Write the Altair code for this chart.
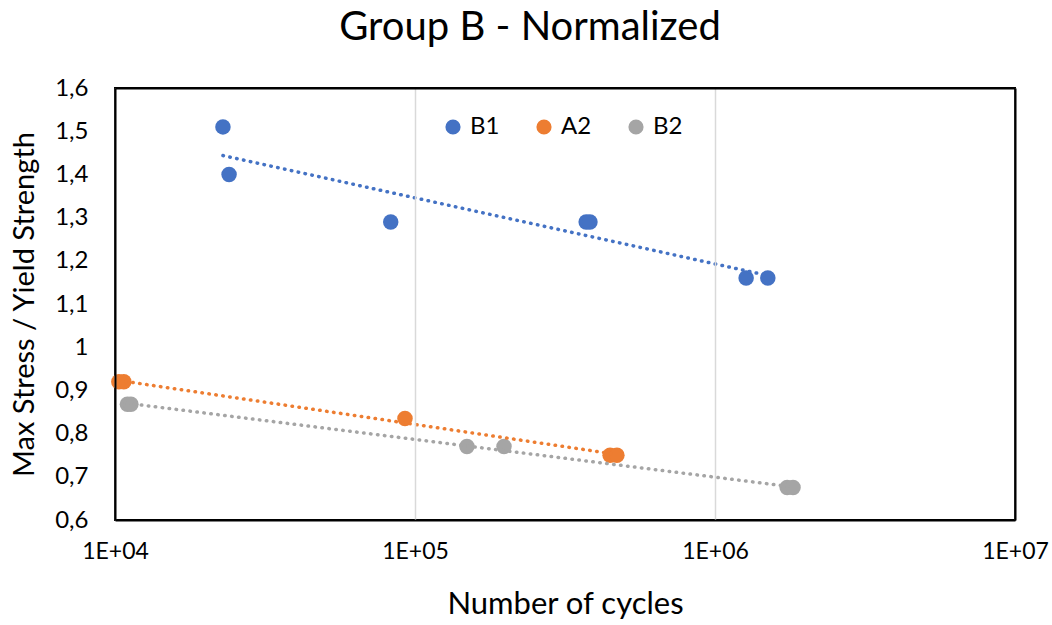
import altair as alt
import pandas as pd

series_names = ["B1", "A2", "B2"]
colors = ["#4472C4", "#ED7D31", "#A5A5A5"]

b1_cycles = [22900, 24000, 83000, 372000, 383000, 1270000, 1500000]
b1_ratio = [1.51, 1.40, 1.29, 1.29, 1.29, 1.16, 1.16]

a2_cycles = [10300, 10700, 92600, 447000, 471000]
a2_ratio = [0.92, 0.92, 0.835, 0.75, 0.75]

b2_cycles = [11000, 11300, 149000, 198000, 1740000, 1820000]
b2_ratio = [0.868, 0.868, 0.77, 0.77, 0.675, 0.675]

x_ticks = [1e4, 1e5, 1e6, 1e7]
y_ticks = [0.6, 0.7, 0.8, 0.9, 1.0, 1.1, 1.2, 1.3, 1.4, 1.5, 1.6]

rows = []
for name, xs, ys in [("B1", b1_cycles, b1_ratio), ("A2", a2_cycles, a2_ratio), ("B2", b2_cycles, b2_ratio)]:
    for xv, yv in zip(xs, ys):
        rows.append({"series": name, "n": xv, "ratio": yv})
df = pd.DataFrame(rows)

FONT = "Lato"

x_scale = alt.Scale(type="log", domain=[1e4, 1e7], nice=False)
y_scale = alt.Scale(domain=[0.6, 1.6], nice=False, zero=False)

x_enc = alt.X(
    "n:Q",
    scale=x_scale,
    axis=alt.Axis(
        values=x_ticks,
        labelExpr="'1E+0' + round(log(datum.value) / LN10)",
        title="Number of cycles",
        grid=True,
        gridColor="#D9D9D9",
        gridWidth=1.5,
        domain=True,
        domainColor="#000000",
        domainWidth=2,
        ticks=False,
        labelFlush=False,
        labelPadding=20,
        labelFontSize=23,
        labelColor="#000000",
        titleFontSize=31,
        titleFontWeight="normal",
        titleColor="#000000",
        titlePadding=26,
        labelFont=FONT,
        titleFont=FONT,
        zindex=1,
    ),
)
y_enc = alt.Y(
    "ratio:Q",
    scale=y_scale,
    axis=alt.Axis(
        values=y_ticks,
        labelExpr="replace(format(datum.value, '~g'), '.', ',')",
        title="Max Stress / Yield Strength",
        grid=False,
        domain=True,
        domainColor="#000000",
        domainWidth=2,
        ticks=False,
        labelPadding=27,
        labelFontSize=24,
        labelColor="#000000",
        titleFontSize=29,
        titleFontWeight="normal",
        titleColor="#000000",
        titlePadding=15,
        labelFont=FONT,
        titleFont=FONT,
        zindex=1,
    ),
)
# frame axes (top / right) drawn only as black domain lines
x_top = alt.X(
    "n:Q",
    scale=x_scale,
    axis=alt.Axis(orient="top", labels=False, ticks=False, grid=False, title=None,
                  domain=True, domainColor="#000000", domainWidth=2, zindex=2),
)
y_right = alt.Y(
    "ratio:Q",
    scale=y_scale,
    axis=alt.Axis(orient="right", labels=False, ticks=False, grid=False, title=None,
                  domain=True, domainColor="#000000", domainWidth=2, zindex=2),
)

color_scale = alt.Scale(domain=series_names, range=colors)
color_enc = alt.Color(
    "series:N",
    scale=color_scale,
    sort=series_names,
    legend=alt.Legend(
        title=None,
        orient="none",
        legendX=326,
        legendY=27,
        direction="horizontal",
        columns=3,
        symbolType="circle",
        symbolSize=230,
        symbolStrokeWidth=0,
        symbolOpacity=1,
        labelFontSize=24,
        labelFont=FONT,
        labelColor="#000000",
        labelOffset=5,
        columnPadding=32,
    ),
)

points = alt.Chart(df).mark_circle(size=240, opacity=1).encode(
    x=x_enc, y=y_enc, color=color_enc
)

trend = (
    alt.Chart(df)
    .transform_regression("n", "ratio", method="log", groupby=["series"])
    .mark_line(strokeDash=[0.5, 6.5], strokeCap="round", strokeWidth=3.5)
    .encode(x=x_top, y=y_right, color=color_enc)
)

chart = (
    alt.layer(points, trend)
    .resolve_axis(x="independent", y="independent")
    .properties(
        width=900,
        height=432,
        background="white",
        autosize=alt.AutoSizeParams(type="none"),
        padding={"left": 115, "top": 88, "right": 37, "bottom": 105},
        title=alt.TitleParams(
            "Group B - Normalized",
            fontSize=40,
            font=FONT,
            fontWeight="normal",
            color="#000000",
            anchor="middle",
            dx=-35,
            offset=28,
        ),
    )
    .configure_view(stroke="#000000", strokeWidth=2)
)

chart.save("out.html", embed_options={"renderer": "svg", "actions": False})
